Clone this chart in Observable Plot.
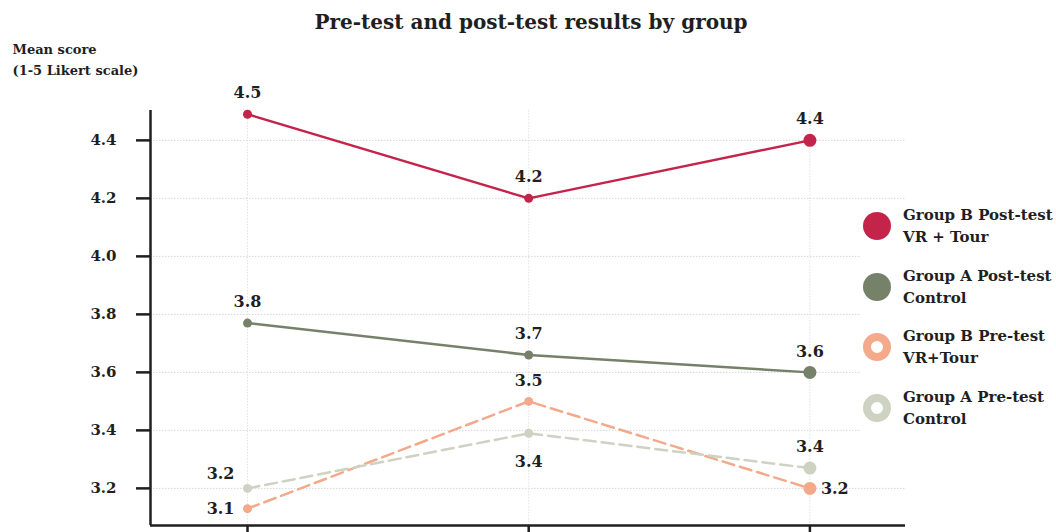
<!DOCTYPE html>
<html>
<head>
<meta charset="utf-8">
<script src="https://cdn.jsdelivr.net/npm/d3@7"></script>
<script src="https://cdn.jsdelivr.net/npm/@observablehq/plot@0.6"></script>
<style>
  body { margin: 0; background: #fff; }
  #wrap { position: relative; width: 1056px; height: 532px; overflow: hidden; font-family: "DejaVu Serif", serif; font-weight: bold; color: #1f1f1f; }
  #title { height: 40px; line-height: 44px; text-align: center; font-size: 20px; padding-left: 6px; }
  #legend { position: absolute; left: 860px; top: 204px; width: 196px; background: #fff; }
  .item { display: flex; align-items: center; height: 44px; margin-bottom: 16.5px; }
  .sw { width: 28px; height: 28px; border-radius: 50%; box-sizing: border-box; margin-left: 3px; margin-right: 12px; flex: none; }
  .lab { font-size: 15px; line-height: 22px; white-space: pre; }
  svg { display: block; }
</style>
</head>
<body>
<div id="wrap">
  <div id="title">Pre-test and post-test results by group</div>
  <div id="chart"></div>
  <div id="legend"></div>
</div>
<script>
// ---- data ----
const categories = ["Measure 1", "Measure 2", "Measure 3"];
const seriesNames = [
  "Group B Post-test\nVR + Tour",
  "Group A Post-test\nControl",
  "Group B Pre-test\nVR+Tour",
  "Group A Pre-test\nControl"
];
const seriesColors = ["#c4244a", "#76816a", "#f4a98b", "#cdd2c2"];
const groupBPost = [4.49, 4.20, 4.40];
const groupAPost = [3.77, 3.66, 3.60];
const groupBPre  = [3.13, 3.50, 3.20];
const groupAPre  = [3.20, 3.39, 3.27];
const groupBPostLabels = ["4.5", "4.2", "4.4"];
const groupAPostLabels = ["3.8", "3.7", "3.6"];
const groupBPreLabels  = ["3.1", "3.5", "3.2"];
const groupAPreLabels  = ["3.2", "3.4", "3.4"];
const yTicks = [3.2, 3.4, 3.6, 3.8, 4.0, 4.2, 4.4];

// ---- table ----
const valueSets = [groupBPost, groupAPost, groupBPre, groupAPre];
const labelSets = [groupBPostLabels, groupAPostLabels, groupBPreLabels, groupAPreLabels];
const rows = [];
seriesNames.forEach((s, k) => {
  categories.forEach((c, i) => {
    rows.push({series: s, k, category: c, i, x: i + 1, value: valueSets[k][i], label: labelSets[k][i], pre: k >= 2});
  });
});

// label placement (style, not data)
const placement = (d) => {
  if (d.k === 2 && d.i === 0) return "left";
  if (d.k === 2 && d.i === 2) return "right";
  if (d.k === 3 && d.i === 0) return "upleft";
  if (d.k === 3 && d.i === 1) return "below";
  return "above";
};

const font = "DejaVu Serif, serif";
const xDomain = [0.655, 3.34];
const yDomain = [3.072, 4.503];
const ink = "#1f1f1f";

const chart = Plot.plot({
  width: 1056,
  height: 492,
  marginLeft: 150,
  marginRight: 151,
  marginTop: 70,
  marginBottom: 7,
  style: {fontFamily: font, fontWeight: "bold", color: ink, background: "#fff"},
  x: {domain: xDomain, axis: null},
  y: {domain: yDomain, axis: null},
  color: {domain: seriesNames, range: seriesColors},
  r: {type: "identity"},
  marks: [
    Plot.ruleY(yTicks, {stroke: "#d6d6d6", strokeDasharray: "1.5,1.5", strokeWidth: 1}),
    Plot.ruleX([1, 2, 3], {stroke: "#e2e2e2", strokeDasharray: "1.5,1.5", strokeWidth: 1}),
    Plot.axisY(yTicks, {label: null, tickSize: 14, tickPadding: 20, fontSize: 15, fontWeight: "bold", strokeWidth: 2.5, stroke: ink, tickFormat: d => d.toFixed(1)}),
    Plot.axisX([1, 2, 3], {label: null, tickSize: 14, strokeWidth: 2.5, stroke: ink, tickFormat: () => ""}),
    Plot.ruleX([xDomain[0]], {strokeWidth: 2.5, stroke: ink}),
    Plot.ruleY([yDomain[0]], {strokeWidth: 2.5, stroke: ink}),
    Plot.line(rows.filter(d => d.pre), {x: "x", y: "value", z: "series", stroke: "series", strokeWidth: 2.5, strokeDasharray: "12,6"}),
    Plot.line(rows.filter(d => !d.pre), {x: "x", y: "value", z: "series", stroke: "series", strokeWidth: 2.5}),
    Plot.dot(rows, {x: "x", y: "value", fill: "series", r: d => d.i === 2 ? 6.5 : 4.5}),
    Plot.text(rows.filter(d => placement(d) === "above"), {x: "x", y: "value", text: "label", dy: -21, fontSize: 16, fill: ink}),
    Plot.text(rows.filter(d => placement(d) === "below"), {x: "x", y: "value", text: "label", dy: 29, fontSize: 16, fill: ink}),
    Plot.text(rows.filter(d => placement(d) === "left"), {x: "x", y: "value", text: "label", dx: -13, textAnchor: "end", fontSize: 16, fill: ink}),
    Plot.text(rows.filter(d => placement(d) === "right"), {x: "x", y: "value", text: "label", dx: 11, textAnchor: "start", fontSize: 16, fill: ink}),
    Plot.text(rows.filter(d => placement(d) === "upleft"), {x: "x", y: "value", text: "label", dx: -13, dy: -15, textAnchor: "end", fontSize: 16, fill: ink}),
    Plot.text(["Mean score\n(1-5 Likert scale)"], {frameAnchor: "top-left", dx: -138, dy: -71, textAnchor: "start", lineAnchor: "top", lineHeight: 1.6, fontSize: 13, fill: ink})
  ]
});
document.getElementById("chart").appendChild(chart);

// legend
const legend = document.getElementById("legend");
seriesNames.forEach((s, k) => {
  const item = document.createElement("div");
  item.className = "item";
  const sw = document.createElement("div");
  sw.className = "sw";
  if (k < 2) sw.style.background = seriesColors[k];
  else { sw.style.border = `8px solid ${seriesColors[k]}`; sw.style.background = "#fff"; }
  const lab = document.createElement("div");
  lab.className = "lab";
  lab.textContent = s;
  item.appendChild(sw);
  item.appendChild(lab);
  legend.appendChild(item);
});
</script>
</body>
</html>
